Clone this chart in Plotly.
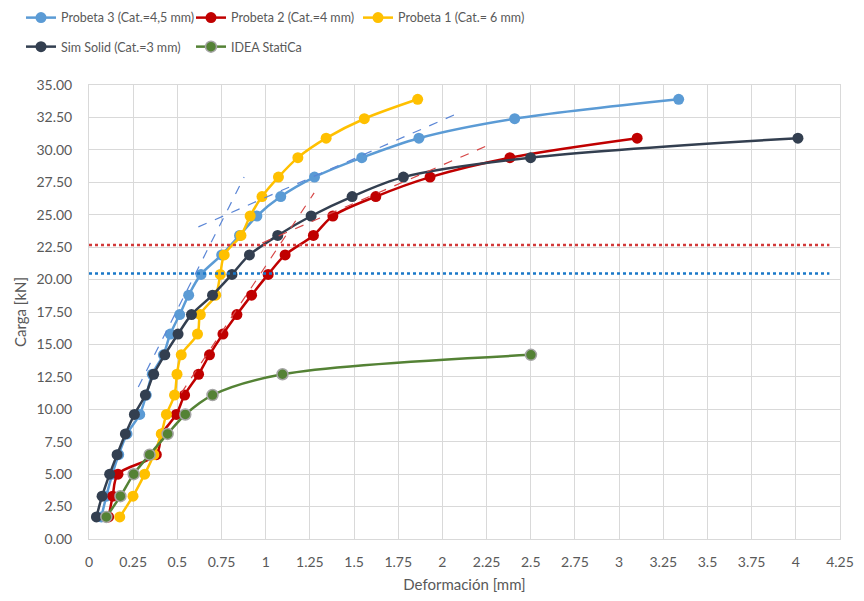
import plotly.graph_objects as go

# ---------------- data ----------------
p3_x = [0.070, 0.098, 0.132, 0.168, 0.215, 0.287, 0.324, 0.358, 0.421, 0.460, 0.513,
        0.564, 0.634, 0.751, 0.852, 0.950, 1.085, 1.276, 1.544, 1.867, 2.409, 3.337]
p3_y = [1.7, 3.3, 5.0, 6.5, 8.1, 9.6, 11.1, 12.7, 14.2, 15.8, 17.3,
        18.8, 20.4, 21.9, 23.4, 24.9, 26.4, 27.9, 29.4, 30.9, 32.4, 33.9]

p2_x = [0.111, 0.134, 0.164, 0.381, 0.413, 0.494, 0.541, 0.620, 0.682, 0.758,
        0.837, 0.920, 1.014, 1.110, 1.270, 1.380, 1.623, 1.930, 2.382, 3.102]
p2_y = [1.7, 3.3, 5.0, 6.5, 8.1, 9.6, 11.1, 12.7, 14.2, 15.8,
        17.3, 18.8, 20.4, 21.9, 23.4, 24.9, 26.4, 27.9, 29.4, 30.9]

p1_x = [0.174, 0.249, 0.315, 0.367, 0.409, 0.438, 0.484, 0.498, 0.522, 0.614, 0.630,
        0.717, 0.743, 0.765, 0.860, 0.912, 0.979, 1.072, 1.182, 1.342, 1.558, 1.860]
p1_y = [1.7, 3.3, 5.0, 6.5, 8.1, 9.6, 11.1, 12.7, 14.2, 15.8, 17.3,
        18.8, 20.4, 21.9, 23.4, 24.9, 26.4, 27.9, 29.4, 30.9, 32.4, 33.9]

sim_x = [0.042, 0.074, 0.117, 0.159, 0.206, 0.257, 0.319, 0.366, 0.429, 0.504,
         0.580, 0.699, 0.809, 0.908, 1.068, 1.257, 1.489, 1.779, 2.499, 4.012]
sim_y = [1.7, 3.3, 5.0, 6.5, 8.1, 9.6, 11.1, 12.7, 14.2, 15.8,
         17.3, 18.8, 20.4, 21.9, 23.4, 24.9, 26.4, 27.9, 29.4, 30.9]

idea_x = [0.098, 0.178, 0.253, 0.343, 0.445, 0.545, 0.699, 1.095, 2.501]
idea_y = [1.7, 3.3, 5.0, 6.5, 8.1, 9.6, 11.1, 12.7, 14.2]

# tangent (dashed) lines
p3_tan1_x = [0.279, 0.878]
p3_tan1_y = [11.72, 27.91]
p3_tan2_x = [0.619, 2.066]
p3_tan2_y = [24.06, 32.69]
p2_tan1_x = [0.522, 1.274]
p2_tan1_y = [11.24, 26.68]
p2_tan2_x = [0.980, 2.275]
p2_tan2_y = [22.82, 30.45]

# yield levels (dotted)
yield_x = [0.0, 4.19]
p2_yield = 22.67
p3_yield = 20.47

series_names = ["Probeta 3 (Cat.=4,5 mm)", "Probeta 2 (Cat.=4 mm)", "Probeta 1 (Cat.= 6 mm)",
                "Sim Solid (Cat.=3 mm)", "IDEA StatiCa"]
x_ticks = [0, 0.25, 0.5, 0.75, 1, 1.25, 1.5, 1.75, 2, 2.25, 2.5, 2.75, 3, 3.25, 3.5, 3.75, 4, 4.25]
y_ticks = [0, 2.5, 5, 7.5, 10, 12.5, 15, 17.5, 20, 22.5, 25, 27.5, 30, 32.5, 35]

C_BLUE = "#5B9BD5"
C_RED = "#C00000"
C_YEL = "#FFC000"
C_DARK = "#333F50"
C_GRN = "#548235"

fig = go.Figure()

def add_series(x, y, name, color, legend, mline=None):
    fig.add_trace(go.Scatter(
        x=x, y=y, name=name, mode="lines+markers",
        line=dict(color=color, width=2.5, shape="spline", smoothing=0.9),
        marker=dict(color=color, size=11,
                    line=dict(color=mline if mline else color, width=1.5 if mline else 0)),
        legend=legend,
    ))

add_series(p3_x, p3_y, series_names[0], C_BLUE, "legend")
add_series(p2_x, p2_y, series_names[1], C_RED, "legend2")
add_series(p1_x, p1_y, series_names[2], C_YEL, "legend3")
add_series(sim_x, sim_y, series_names[3], C_DARK, "legend4")
add_series(idea_x, idea_y, series_names[4], C_GRN, "legend5", mline="#A5A5A5")

def add_dash(x, y, color):
    fig.add_trace(go.Scatter(x=x, y=y, mode="lines", showlegend=False, hoverinfo="skip",
                             line=dict(color=color, width=1.2, dash="dash")))

add_dash(p3_tan1_x, p3_tan1_y, "#5B86D6")
add_dash(p3_tan2_x, p3_tan2_y, "#5B86D6")
add_dash(p2_tan1_x, p2_tan1_y, "#D64545")
add_dash(p2_tan2_x, p2_tan2_y, "#D64545")

fig.add_trace(go.Scatter(x=yield_x, y=[p2_yield, p2_yield], mode="lines", showlegend=False,
                         hoverinfo="skip", line=dict(color="#D23A3A", width=2.5, dash="dot")))
fig.add_trace(go.Scatter(x=yield_x, y=[p3_yield, p3_yield], mode="lines", showlegend=False,
                         hoverinfo="skip", line=dict(color="#1A78C8", width=2.5, dash="dot")))

FAM = "Lato, Roboto, sans-serif"
tick_font = dict(family=FAM, size=14, color="#595959")
title_font = dict(family=FAM, size=15, color="#595959")
legend_font = dict(family=FAM, size=12.5, color="#595959")

PLOT_L, PLOT_W = 89, 751
def leg(px_left, row_y):
    return dict(orientation="h", x=(px_left - PLOT_L) / PLOT_W, xanchor="left",
                y=row_y, yanchor="middle", font=legend_font,
                bgcolor="rgba(0,0,0,0)", itemwidth=30)

ROW1, ROW2 = 1.1476, 1.0837

fig.update_layout(
    width=864, height=601,
    margin=dict(l=81, r=32, t=77, b=70, autoexpand=False),
    paper_bgcolor="white", plot_bgcolor="white",
    xaxis=dict(range=[0, 4.25], tickvals=x_ticks, ticktext=[("%g" % v) for v in x_ticks],
               showgrid=True, gridcolor="#D9D9D9", gridwidth=1, zeroline=False,
               showline=True, linecolor="#D9D9D9", linewidth=1, mirror=True,
               ticks="", tickfont=tick_font, ticklabelstandoff=10, automargin=False,
               title=dict(text="Deformación [mm]", font=title_font, standoff=10)),
    yaxis=dict(range=[0, 35], tickvals=y_ticks, ticktext=["%.2f" % v for v in y_ticks],
               showgrid=True, gridcolor="#D9D9D9", gridwidth=1, zeroline=False,
               showline=True, linecolor="#D9D9D9", linewidth=1, mirror=True,
               ticks="", tickfont=tick_font, ticklabelstandoff=13, automargin=False,
               title=dict(text="Carga [kN]", font=title_font, standoff=6)),
    legend=leg(21, ROW1),
    legend2=leg(191, ROW1),
    legend3=leg(358, ROW1),
    legend4=leg(21, ROW2),
    legend5=leg(191, ROW2),
    showlegend=True,
)

fig.write_html("out.html")
